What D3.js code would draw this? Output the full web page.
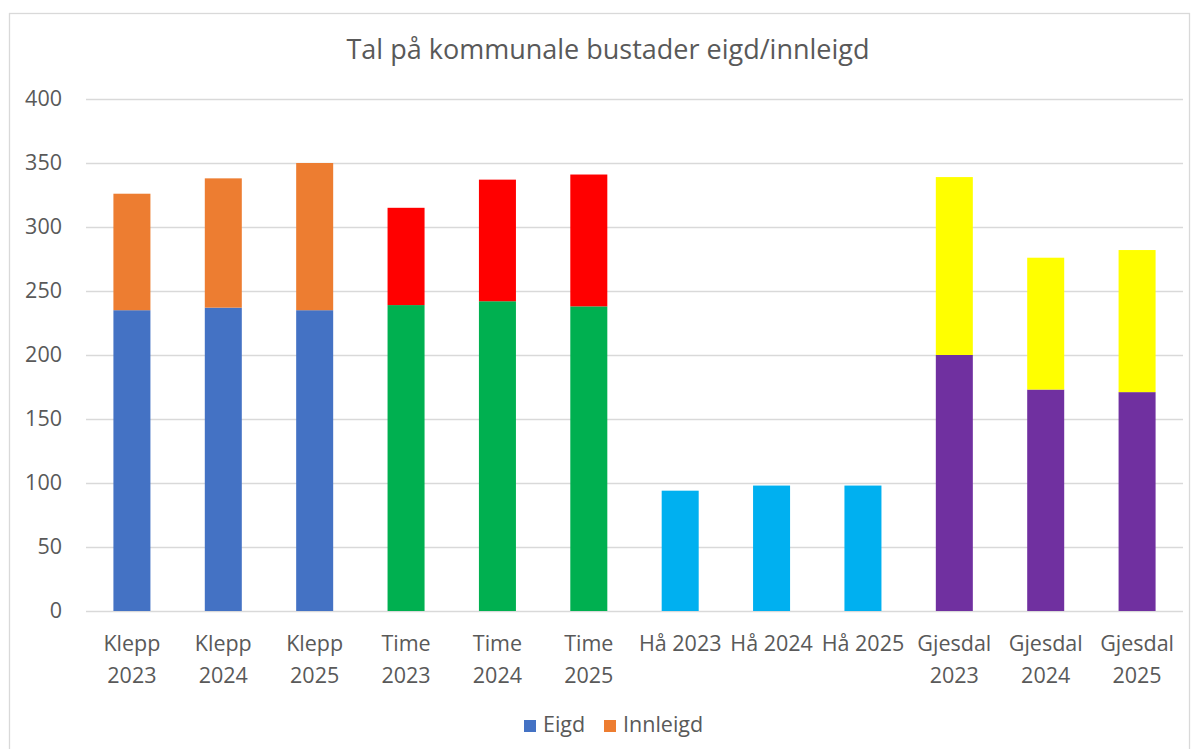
<!DOCTYPE html>
<meta charset="utf-8">
<style>
body { margin: 0; background: #fff; }
text { font-family: "Open Sans", Lato, sans-serif; fill: #595959; }
.grid line { stroke: #d9d9d9; stroke-width: 1.3px; }
</style>
<svg width="1194" height="749"></svg>
<script src="https://d3js.org/d3.v7.min.js"></script>
<script>

var categories = ["Klepp 2023", "Klepp 2024", "Klepp 2025",
                  "Time 2023", "Time 2024", "Time 2025",
                  "Hå 2023", "Hå 2024", "Hå 2025",
                  "Gjesdal 2023", "Gjesdal 2024", "Gjesdal 2025"];
var eigd = [235, 237, 235, 239, 242, 238, 94, 98, 98, 200, 173, 171];
var innleigd = [91, 101, 115, 76, 95, 103, 0, 0, 0, 139, 103, 111];
// each kommune has its own pair of colours (eigd, innleigd)
var eigdColors = ["#4472C4", "#4472C4", "#4472C4", "#00B050", "#00B050", "#00B050",
                  "#00B0F0", "#00B0F0", "#00B0F0", "#7030A0", "#7030A0", "#7030A0"];
var innleigdColors = ["#ED7D31", "#ED7D31", "#ED7D31", "#FF0000", "#FF0000", "#FF0000",
                      "#ED7D31", "#ED7D31", "#ED7D31", "#FFFF00", "#FFFF00", "#FFFF00"];
var yTicks = [0, 50, 100, 150, 200, 250, 300, 350, 400];
var legendItems = ["Eigd", "Innleigd"];
var legendColors = ["#4472C4", "#ED7D31"];
var title = "Tal på kommunale bustader eigd/innleigd";

var svg = d3.select("svg");

// chart border
svg.append("rect")
  .attr("x", 9.5).attr("y", 13.5)
  .attr("width", 1180).attr("height", 745)
  .attr("fill", "none")
  .attr("stroke", "#d9d9d9")
  .attr("stroke-width", 1.3);

var plotLeft = 86, plotRight = 1183, plotTop = 99, plotBottom = 611;

var x = d3.scaleBand()
  .domain(categories)
  .range([plotLeft, plotRight])
  .paddingInner(0.595)
  .paddingOuter(0.3);

var y = d3.scaleLinear()
  .domain([0, 400])
  .range([plotBottom, plotTop]);

// gridlines
svg.append("g")
  .attr("class", "grid")
  .selectAll("line")
  .data(yTicks)
  .enter().append("line")
  .attr("x1", plotLeft).attr("x2", plotRight)
  .attr("y1", function(d) { return Math.round(y(d)) + 0.5; })
  .attr("y2", function(d) { return Math.round(y(d)) + 0.5; });

// y axis labels
var yAxis = svg.append("g")
  .attr("transform", "translate(" + plotLeft + ",0)")
  .call(d3.axisLeft(y).tickValues(yTicks).tickSize(0).tickPadding(24));
yAxis.select(".domain").remove();
yAxis.selectAll("text")
  .style("font-size", "21.5px")
  .style("font-family", "'Open Sans', Lato, sans-serif")
  .attr("fill", "#595959");

var rows = categories.map(function(c, i) {
  return { cat: c, eigd: eigd[i], innleigd: innleigd[i], i: i };
});

// eigd bars
svg.append("g").selectAll("rect")
  .data(rows)
  .enter().append("rect")
  .attr("x", function(d) { return x(d.cat); })
  .attr("width", x.bandwidth())
  .attr("y", function(d) { return y(d.eigd); })
  .attr("height", function(d) { return y(0) - y(d.eigd); })
  .attr("fill", function(d) { return eigdColors[d.i]; });

// innleigd bars stacked on top
svg.append("g").selectAll("rect")
  .data(rows.filter(function(d) { return d.innleigd > 0; }))
  .enter().append("rect")
  .attr("x", function(d) { return x(d.cat); })
  .attr("width", x.bandwidth())
  .attr("y", function(d) { return y(d.eigd + d.innleigd); })
  .attr("height", function(d) { return y(d.eigd) - y(d.eigd + d.innleigd); })
  .attr("fill", function(d) { return innleigdColors[d.i]; });

// x labels, wrapped like excel does when they don't fit
var xLab = svg.append("g").selectAll("text")
  .data(categories)
  .enter().append("text")
  .attr("x", function(d) { return x(d) + x.bandwidth() / 2; })
  .attr("y", 651)
  .attr("text-anchor", "middle")
  .style("font-size", "21.5px")
  .text(function(d) { return d; });

xLab.each(function(d) {
  var t = d3.select(this);
  if (this.getComputedTextLength() > x.step() - 1) {
    var parts = d.split(" ");
    t.text(null);
    t.append("tspan").attr("x", t.attr("x")).text(parts[0]);
    t.append("tspan").attr("x", t.attr("x")).attr("dy", 32).text(parts[1]);
  }
});

// title
svg.append("text")
  .attr("x", 608)
  .attr("y", 59)
  .attr("text-anchor", "middle")
  .style("font-size", "27px")
  .text(title);

// legend
var legend = svg.append("g");
var lx = [524, 604];
legendItems.forEach(function(name, i) {
  legend.append("rect")
    .attr("x", lx[i]).attr("y", 720)
    .attr("width", 12).attr("height", 12)
    .attr("fill", legendColors[i]);
  legend.append("text")
    .attr("x", lx[i] + 19).attr("y", 732)
    .style("font-size", "21.5px")
    .text(name);
});

</script>
